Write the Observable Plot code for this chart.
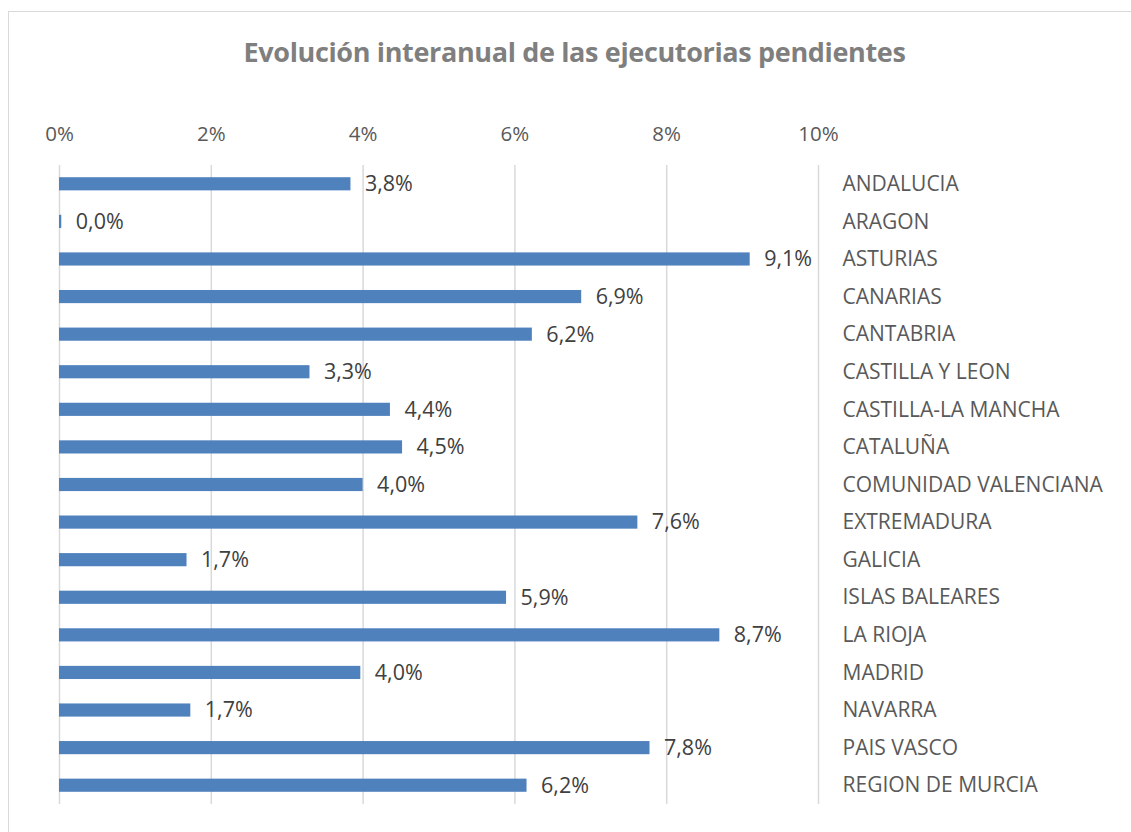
<!DOCTYPE html>
<html>
<head>
<meta charset="utf-8">
<script src="https://cdn.jsdelivr.net/npm/d3@7"></script>
<script src="https://cdn.jsdelivr.net/npm/@observablehq/plot@0.6"></script>
<style>
  body { margin: 0; background: #fff; }
  #wrap { position: relative; width: 1131px; height: 832px; overflow: hidden; font-family: "Open Sans", sans-serif; }
  #frame { position: absolute; left: 8px; top: 11px; width: 1140px; height: 840px; border-left: 1.5px solid #d9d9d9; border-top: 1.5px solid #d9d9d9; }
  #title { position: absolute; left: 9px; width: 1131px; top: 33px; text-align: center; font-size: 27px; font-weight: bold; color: #7f7f7f; letter-spacing: -0.35px; }
  #chart { position: absolute; left: 0; top: 100px; }
</style>
</head>
<body>
<div id="wrap">
  <div id="frame"></div>
  <div id="title">Evolución interanual de las ejecutorias pendientes</div>
  <div id="chart"></div>
</div>
<script>
const regions = ["ANDALUCIA","ARAGON","ASTURIAS","CANARIAS","CANTABRIA","CASTILLA Y LEON","CASTILLA-LA MANCHA","CATALUÑA","COMUNIDAD VALENCIANA","EXTREMADURA","GALICIA","ISLAS BALEARES","LA RIOJA","MADRID","NAVARRA","PAIS VASCO","REGION DE MURCIA"];
const values = [3.84, 0.03, 9.10, 6.88, 6.23, 3.30, 4.36, 4.52, 4.00, 7.62, 1.68, 5.89, 8.70, 3.97, 1.73, 7.78, 6.16];
const labels = ["3,8%","0,0%","9,1%","6,9%","6,2%","3,3%","4,4%","4,5%","4,0%","7,6%","1,7%","5,9%","8,7%","4,0%","1,7%","7,8%","6,2%"];
const xTicks = [0, 2, 4, 6, 8, 10];

const data = regions.map((r, i) => ({region: r, value: values[i], label: labels[i]}));

const chart = Plot.plot({
  width: 1131,
  height: 732,
  marginLeft: 59,
  marginRight: 313,
  marginTop: 65,
  marginBottom: 28,
  style: {fontFamily: "'Open Sans', sans-serif", fontSize: "20px", color: "#595959", background: "transparent"},
  x: {domain: [0, 10], ticks: xTicks, tickFormat: d => d + "%"},
  y: {domain: regions, paddingInner: 0.65, paddingOuter: 0.325, round: false},
  marks: [
    Plot.gridX(xTicks, {stroke: "#d9d9d9", strokeOpacity: 1, strokeWidth: 1.5}),
    Plot.axisX({anchor: "top", ticks: xTicks, tickSize: 0, tickPadding: 25, tickFormat: d => d + "%", label: null, fill: "#595959", fontSize: 20.5}),
    Plot.axisY({anchor: "right", tickSize: 0, tickPadding: 24, label: null, fill: "#595959", fontSize: 21, textAnchor: "start"}),
    Plot.barX(data, {x: "value", y: "region", fill: "#4f81bd"}),
    Plot.text(data, {x: "value", y: "region", text: "label", dx: 14, textAnchor: "start", fill: "#404040", fontSize: 21.5})
  ]
});
document.getElementById("chart").appendChild(chart);
</script>
</body>
</html>
